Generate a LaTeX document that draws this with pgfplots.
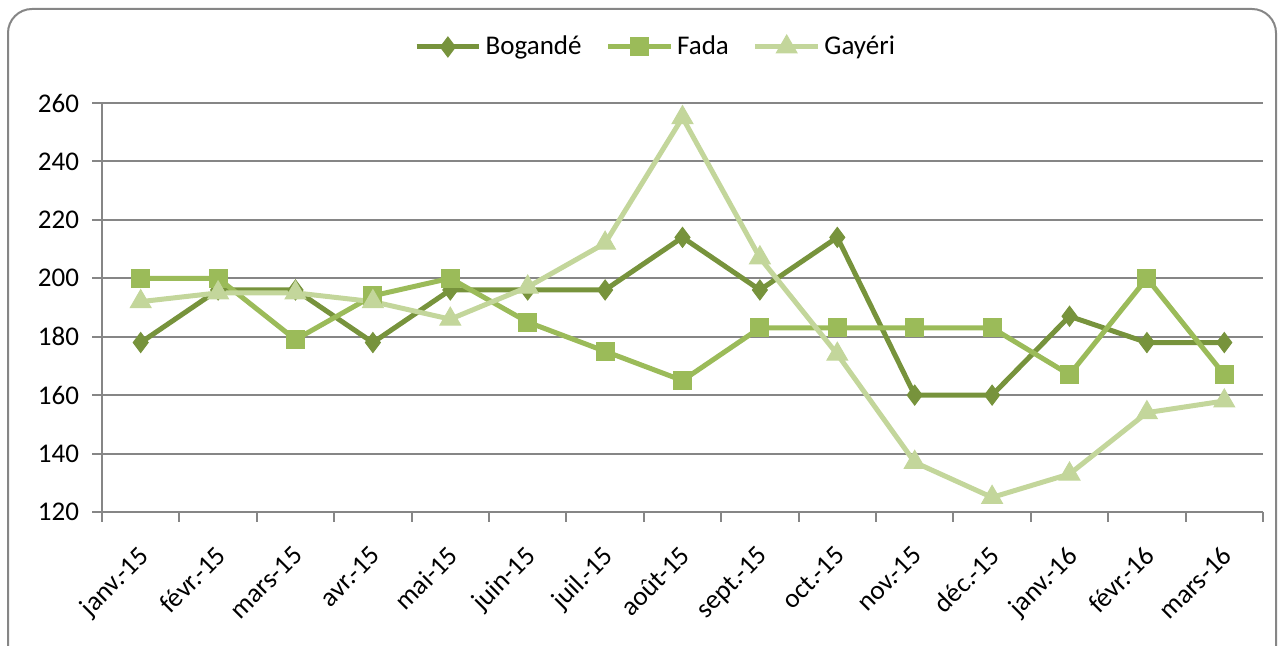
\documentclass[border=0pt]{standalone}
\usepackage{pgfplots}
\pgfplotsset{compat=1.18}
\usepackage{fontspec}
\setmainfont{Carlito}
\definecolor{cB}{HTML}{77933C}
\definecolor{cF}{HTML}{9BBB59}
\definecolor{cG}{HTML}{C3D69B}
\definecolor{gridc}{HTML}{868686}
\begin{document}
\fontsize{13pt}{15pt}\selectfont
\begin{tikzpicture}
\useasboundingbox (0pt,0pt) rectangle (641pt,323pt);
\draw[gridc, line width=1pt, rounded corners=12pt] (4pt,-12pt) rectangle (638pt,318.5pt);
\begin{axis}[
  at={(51pt,67pt)}, anchor=south west,
  scale only axis, width=580.5pt, height=204.5pt,
  xmin=-0.5, xmax=14.5, ymin=120, ymax=260,
  ytick={120,140,...,260},
  xtick={0,...,14},
  xticklabels={janv.-15,févr.-15,mars-15,avr.-15,mai-15,juin-15,juil.-15,août-15,sept.-15,oct.-15,nov.-15,déc.-15,janv.-16,févr.-16,mars-16},
  minor xtick={-0.5,0.5,...,14.5},
  axis x line*=bottom, axis y line*=left,
  axis line style={gridc, line width=1pt},
  ymajorgrids, grid style={gridc, line width=1pt},
  tick align=outside,
  major x tick style={draw=none},
  minor x tick style={gridc, line width=1pt},
  major y tick style={gridc, line width=1pt},
  minor tick length=5pt, major tick length=5pt,
  /pgf/number format/assume math mode=true,
  tick label style={font=\fontsize{13.5pt}{15pt}\selectfont},
  xticklabel style={rotate=45, anchor=north east, xshift=-4.8pt, yshift=-2.1pt},
  yticklabel style={xshift=-2pt},
  legend style={at={(0.5,1)}, anchor=center, yshift=28pt, xshift=-13pt, draw=none, fill=none,
    legend columns=-1, font=\fontsize{13.5pt}{15pt}\selectfont,
    /tikz/every even column/.append style={column sep=10pt}},
  legend image code/.code={\draw[mark repeat=2,mark phase=2] plot coordinates {(0cm,0cm)(0.55cm,0cm)(1.1cm,0cm)};},
  every axis plot/.append style={line width=2.5pt},
]
\addplot[cB, mark=diamond*, mark size=5pt, mark options={solid, fill=cB, draw=cB, line width=0.5pt}] coordinates {
(0,178)(1,196)(2,196)(3,178)(4,196)(5,196)(6,196)(7,214)(8,196)(9,214)(10,160)(11,160)(12,187)(13,178)(14,178)};
\addlegendentry{Bogandé}
\addplot[cF, mark=square*, mark size=4.5pt, mark options={solid, fill=cF, draw=cF, line width=0.5pt}] coordinates {
(0,200)(1,200)(2,179)(3,194)(4,200)(5,185)(6,175)(7,165)(8,183)(9,183)(10,183)(11,183)(12,167)(13,200)(14,167)};
\addlegendentry{Fada}
\addplot[cG, mark=triangle*, mark size=6pt, mark options={solid, fill=cG, draw=cG, line width=0.5pt}] coordinates {
(0,192)(1,195)(2,195)(3,192)(4,186)(5,197)(6,212)(7,255)(8,207)(9,174)(10,137)(11,125)(12,133)(13,154)(14,158)};
\addlegendentry{Gayéri}
\end{axis}
\end{tikzpicture}
\end{document}
